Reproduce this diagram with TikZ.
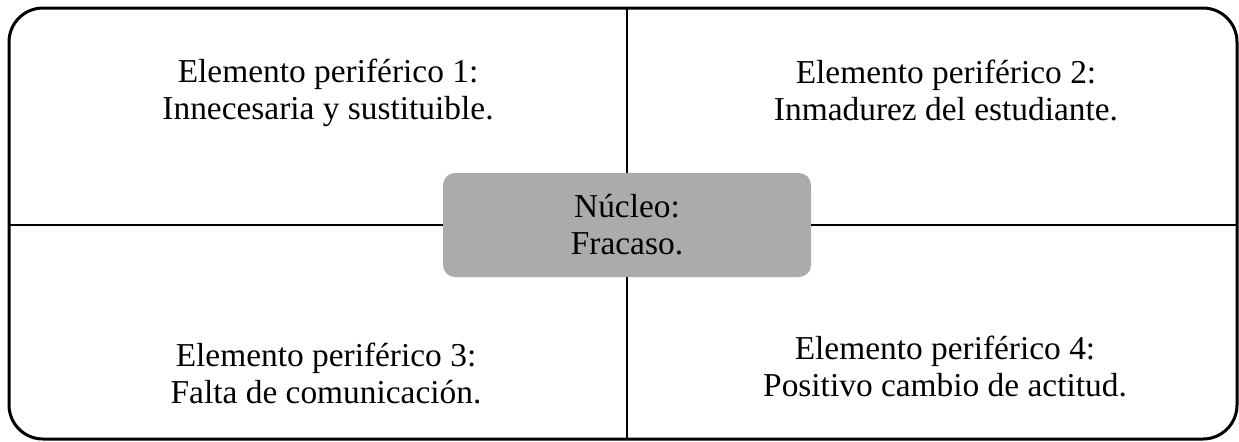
\documentclass[tikz,border=0pt]{standalone}
\usepackage{fontspec}
\setmainfont{Liberation Serif}
\usepackage{tikz}

\tikzset{
  etiqueta/.style={align=center, font=\fontsize{16.7}{18.5}\selectfont},
  nucleobox/.style={etiqueta, fill=nucleogris, rounded corners=6pt,
    minimum width=184pt, minimum height=52pt}
}
\definecolor{nucleogris}{HTML}{ABABAB}

\begin{document}
\begin{tikzpicture}[x=0.5pt, y=-0.5pt]
  \useasboundingbox (0,0) rectangle (1239,441);
  % outer frame
  \coordinate (m1) at (9,8);
  \coordinate (m2) at (1237,439);
  \draw[line width=1.5pt, rounded corners=17pt] (m1) rectangle (m2);

  % core
  \node[nucleobox] (nucleo) at (627,225) {N\'ucleo:\\Fracaso.};

  % the cross
  \draw[line width=1pt] (nucleo.north) -- (nucleo.north |- m1);
  \draw[line width=1pt] (nucleo.south) -- (nucleo.south |- m2);
  \draw[line width=1pt] (nucleo.west) -- (nucleo.west -| m1);
  \draw[line width=1pt] (nucleo.east) -- (nucleo.east -| m2);

  % peripheral elements
  \node[etiqueta] (e1) at (328,93) {Elemento perif\'erico 1:\\Innecesaria y sustituible.};
  \node[etiqueta] (e2) at (946,90) {Elemento perif\'erico 2:\\Inmadurez del estudiante.};
  \node[etiqueta] (e3) at (326,373) {Elemento perif\'erico 3:\\Falta de comunicaci\'on.};
  \node[etiqueta] (e4) at (945,366) {Elemento perif\'erico 4:\\Positivo cambio de actitud.};
\end{tikzpicture}
\end{document}
